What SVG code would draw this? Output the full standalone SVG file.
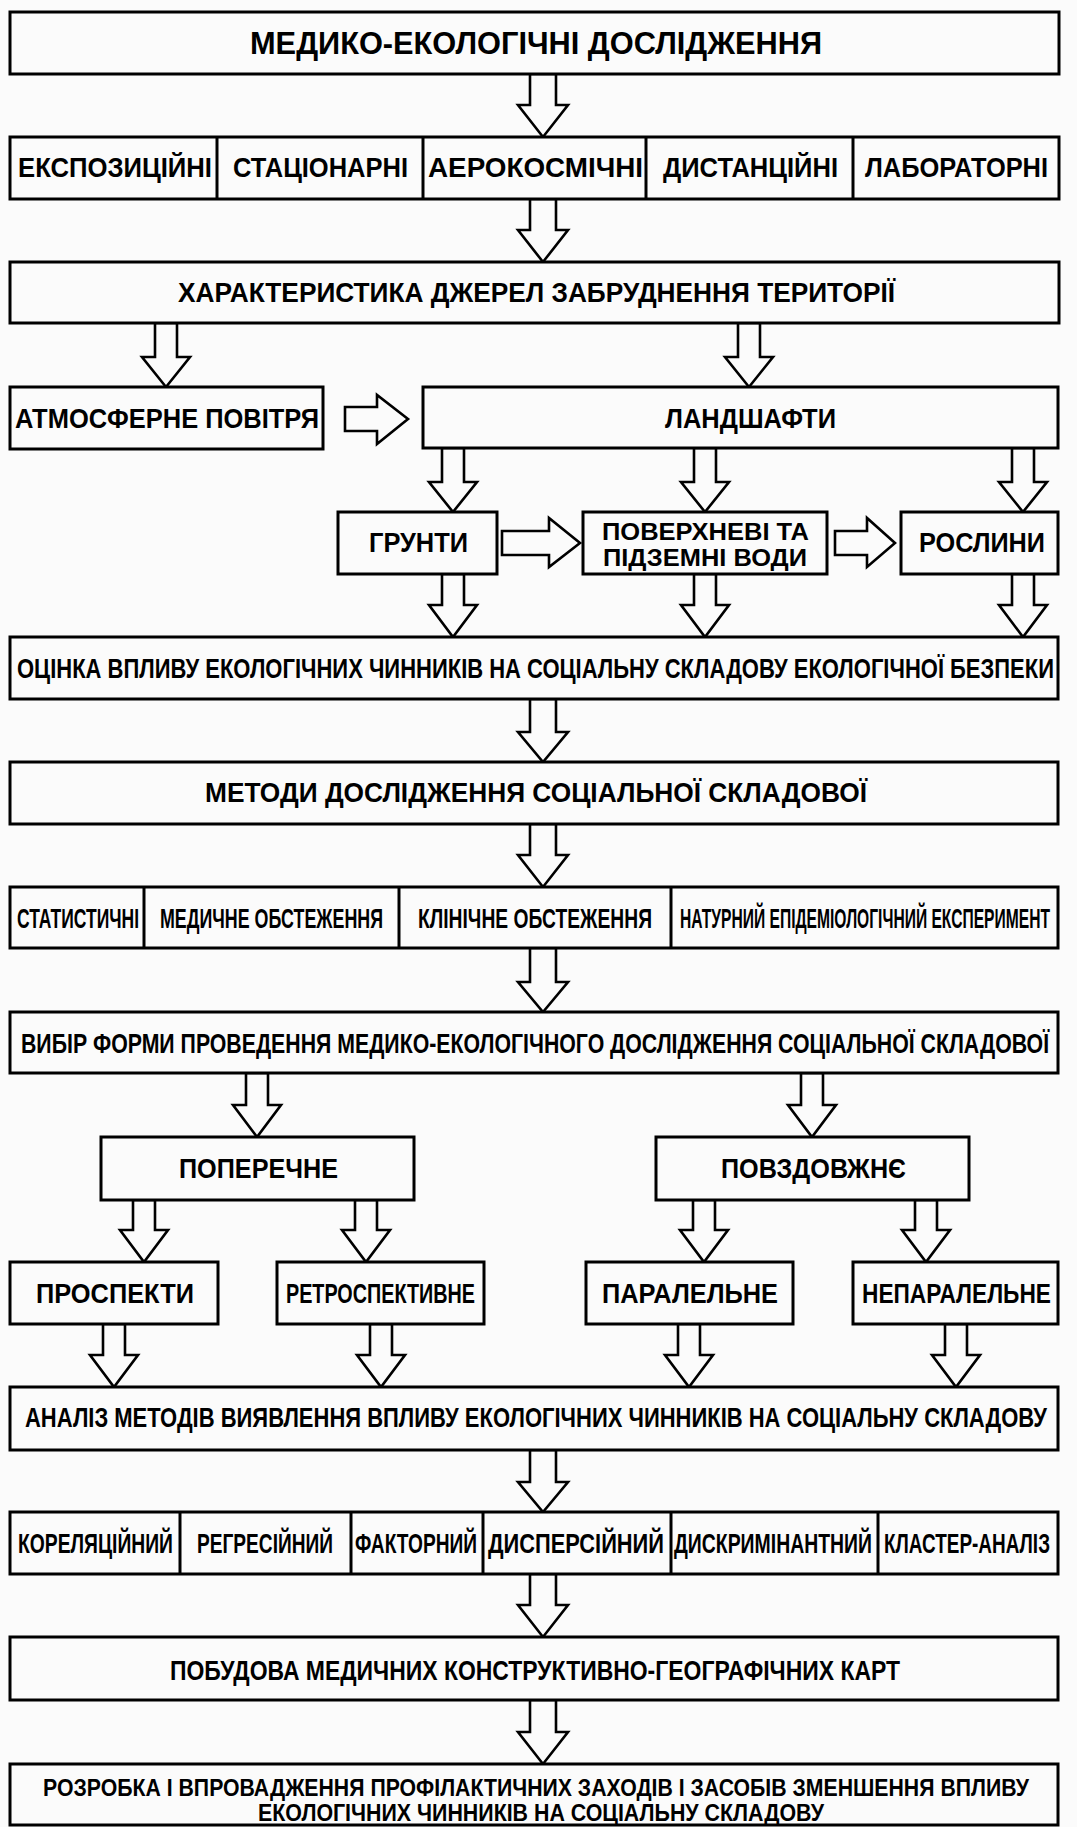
<svg xmlns="http://www.w3.org/2000/svg" width="1077" height="1827" viewBox="0 0 1077 1827">
<style>
.bx{fill:#fbfbfb;stroke:#000;stroke-width:3}
.dv{stroke:#000;stroke-width:3}
.ar{fill:#fbfbfb;stroke:#000;stroke-width:2.6;stroke-linejoin:miter}
text{font-family:"Liberation Sans",Arial,sans-serif;font-weight:bold;fill:#000}
.t31{font-size:31px}
.t26{font-size:27px}
.t24{font-size:24px}
.n27{font-size:28px}
</style>
<rect width="1077" height="1827" fill="#fbfbfb"/>

<g id="connectors">
<path class="ar" d="M530,74 V105 H518 L543,137 L568,105 H556 V74 Z"/>
<path class="ar" d="M530,199 V230 H518 L543,262 L568,230 H556 V199 Z"/>
<path class="ar" d="M530,699 V732 H518 L543,762 L568,732 H556 V699 Z"/>
<path class="ar" d="M530,824 V855 H518 L543,887 L568,855 H556 V824 Z"/>
<path class="ar" d="M530,948 V982 H518 L543,1012 L568,982 H556 V948 Z"/>
<path class="ar" d="M530,1450 V1482 H518 L543,1512 L568,1482 H556 V1450 Z"/>
<path class="ar" d="M530,1574 V1605 H518 L543,1637 L568,1605 H556 V1574 Z"/>
<path class="ar" d="M530,1700 V1732 H518 L543,1764 L568,1732 H556 V1700 Z"/>
<path class="ar" d="M155,323 V357 H142 L166,387 L190,357 H177 V323 Z"/>
<path class="ar" d="M738,323 V357 H725 L749,387 L773,357 H760 V323 Z"/>
<path class="ar" d="M345,407 H377 V395 L408,419 L377,444 V431 H345 Z"/>
<path class="ar" d="M502,531 H549 V518 L580,543 L549,567 V555 H502 Z"/>
<path class="ar" d="M835,531 H867 V518 L895,543 L867,567 V555 H835 Z"/>
<path class="ar" d="M442,448 V482 H429 L453,512 L477,482 H464 V448 Z"/>
<path class="ar" d="M694,448 V482 H681 L705,512 L729,482 H716 V448 Z"/>
<path class="ar" d="M1012,448 V482 H999 L1023,512 L1047,482 H1034 V448 Z"/>
<path class="ar" d="M442,574 V605 H429 L453,637 L477,605 H464 V574 Z"/>
<path class="ar" d="M694,574 V605 H681 L705,637 L729,605 H716 V574 Z"/>
<path class="ar" d="M1012,574 V605 H999 L1023,637 L1047,605 H1034 V574 Z"/>
<path class="ar" d="M246,1073 V1105 H233 L257,1137 L281,1105 H268 V1073 Z"/>
<path class="ar" d="M801,1073 V1105 H788 L812,1137 L836,1105 H823 V1073 Z"/>
<path class="ar" d="M133,1200 V1230 H120 L144,1262 L168,1230 H155 V1200 Z"/>
<path class="ar" d="M355,1200 V1230 H342 L366,1262 L390,1230 H377 V1200 Z"/>
<path class="ar" d="M693,1200 V1230 H680 L704,1262 L728,1230 H715 V1200 Z"/>
<path class="ar" d="M915,1200 V1230 H902 L926,1262 L950,1230 H937 V1200 Z"/>
<path class="ar" d="M103,1324 V1355 H90 L114,1387 L138,1355 H125 V1324 Z"/>
<path class="ar" d="M370,1324 V1355 H357 L381,1387 L405,1355 H392 V1324 Z"/>
<path class="ar" d="M678,1324 V1355 H665 L689,1387 L713,1355 H700 V1324 Z"/>
<path class="ar" d="M945,1324 V1355 H932 L956,1387 L980,1355 H967 V1324 Z"/>
</g>

<g id="n-title">
<rect class="bx" x="10" y="12" width="1049" height="62"/>
<text class="t31" x="250" y="54" textLength="572" lengthAdjust="spacingAndGlyphs">МЕДИКО-ЕКОЛОГІЧНІ ДОСЛІДЖЕННЯ</text>
</g>

<g id="n-types">
<rect class="bx" x="10" y="137" width="1049" height="62"/>
<line class="dv" x1="217" y1="137" x2="217" y2="199"/>
<line class="dv" x1="423" y1="137" x2="423" y2="199"/>
<line class="dv" x1="646" y1="137" x2="646" y2="199"/>
<line class="dv" x1="853" y1="137" x2="853" y2="199"/>
<text class="t26" x="18" y="177" textLength="194" lengthAdjust="spacingAndGlyphs">ЕКСПОЗИЦІЙНІ</text>
<text class="t26" x="233" y="177" textLength="175" lengthAdjust="spacingAndGlyphs">СТАЦІОНАРНІ</text>
<text class="t26" x="428" y="177" textLength="215" lengthAdjust="spacingAndGlyphs">АЕРОКОСМІЧНІ</text>
<text class="t26" x="663" y="177" textLength="175" lengthAdjust="spacingAndGlyphs">ДИСТАНЦІЙНІ</text>
<text class="t26" x="865" y="177" textLength="183" lengthAdjust="spacingAndGlyphs">ЛАБОРАТОРНІ</text>
</g>

<g id="n-sources">
<rect class="bx" x="10" y="262" width="1049" height="61"/>
<text class="t26" x="178" y="302" textLength="717" lengthAdjust="spacingAndGlyphs">ХАРАКТЕРИСТИКА ДЖЕРЕЛ ЗАБРУДНЕННЯ ТЕРИТОРІЇ</text>
</g>

<g id="n-air">
<rect class="bx" x="10" y="387" width="313" height="62"/>
<text class="t26" x="15" y="428" textLength="304" lengthAdjust="spacingAndGlyphs">АТМОСФЕРНЕ ПОВІТРЯ</text>
</g>

<g id="n-landscapes">
<rect class="bx" x="423" y="387" width="635" height="61"/>
<text class="t26" x="665" y="428" textLength="171" lengthAdjust="spacingAndGlyphs">ЛАНДШАФТИ</text>
</g>

<g id="n-soils">
<rect class="bx" x="338" y="512" width="159" height="62"/>
<text class="t26" x="369" y="552" textLength="99" lengthAdjust="spacingAndGlyphs">ГРУНТИ</text>
</g>

<g id="n-waters">
<rect class="bx" x="583" y="512" width="244" height="62"/>
<text class="t24" x="602" y="540" textLength="207" lengthAdjust="spacingAndGlyphs">ПОВЕРХНЕВІ ТА</text>
<text class="t24" x="603" y="566" textLength="204" lengthAdjust="spacingAndGlyphs">ПІДЗЕМНІ ВОДИ</text>
</g>

<g id="n-plants">
<rect class="bx" x="901" y="512" width="157" height="62"/>
<text class="t26" x="919" y="552" textLength="126" lengthAdjust="spacingAndGlyphs">РОСЛИНИ</text>
</g>

<g id="n-assessment">
<rect class="bx" x="10" y="637" width="1048" height="62"/>
<text class="n27" x="17" y="678" textLength="1037" lengthAdjust="spacingAndGlyphs">ОЦІНКА ВПЛИВУ ЕКОЛОГІЧНИХ ЧИННИКІВ НА СОЦІАЛЬНУ СКЛАДОВУ ЕКОЛОГІЧНОЇ БЕЗПЕКИ</text>
</g>

<g id="n-methods">
<rect class="bx" x="10" y="762" width="1048" height="62"/>
<text class="t26" x="205" y="802" textLength="662" lengthAdjust="spacingAndGlyphs">МЕТОДИ ДОСЛІДЖЕННЯ СОЦІАЛЬНОЇ СКЛАДОВОЇ</text>
</g>

<g id="n-method-types">
<rect class="bx" x="10" y="887" width="1048" height="61"/>
<line class="dv" x1="144" y1="887" x2="144" y2="948"/>
<line class="dv" x1="399" y1="887" x2="399" y2="948"/>
<line class="dv" x1="671" y1="887" x2="671" y2="948"/>
<text class="n27" x="17" y="928" textLength="122" lengthAdjust="spacingAndGlyphs">СТАТИСТИЧНІ</text>
<text class="n27" x="160" y="928" textLength="223" lengthAdjust="spacingAndGlyphs">МЕДИЧНЕ ОБСТЕЖЕННЯ</text>
<text class="n27" x="418" y="928" textLength="234" lengthAdjust="spacingAndGlyphs">КЛІНІЧНЕ ОБСТЕЖЕННЯ</text>
<text class="n27" x="680" y="928" textLength="370" lengthAdjust="spacingAndGlyphs">НАТУРНИЙ ЕПІДЕМІОЛОГІЧНИЙ ЕКСПЕРИМЕНТ</text>
</g>

<g id="n-choice">
<rect class="bx" x="10" y="1012" width="1048" height="61"/>
<text class="n27" x="21" y="1053" textLength="1028" lengthAdjust="spacingAndGlyphs">ВИБІР ФОРМИ ПРОВЕДЕННЯ МЕДИКО-ЕКОЛОГІЧНОГО ДОСЛІДЖЕННЯ СОЦІАЛЬНОЇ СКЛАДОВОЇ</text>
</g>

<g id="n-cross">
<rect class="bx" x="101" y="1137" width="313" height="63"/>
<text class="t26" x="179" y="1178" textLength="159" lengthAdjust="spacingAndGlyphs">ПОПЕРЕЧНЕ</text>
</g>

<g id="n-longitudinal">
<rect class="bx" x="656" y="1137" width="313" height="63"/>
<text class="t26" x="721" y="1178" textLength="185" lengthAdjust="spacingAndGlyphs">ПОВЗДОВЖНЄ</text>
</g>

<g id="n-prospective">
<rect class="bx" x="10" y="1262" width="208" height="62"/>
<text class="t26" x="36" y="1303" textLength="158" lengthAdjust="spacingAndGlyphs">ПРОСПЕКТИ</text>
</g>

<g id="n-retrospective">
<rect class="bx" x="277" y="1262" width="207" height="62"/>
<text class="n27" x="286" y="1303" textLength="189" lengthAdjust="spacingAndGlyphs">РЕТРОСПЕКТИВНЕ</text>
</g>

<g id="n-parallel">
<rect class="bx" x="586" y="1262" width="207" height="62"/>
<text class="t26" x="602" y="1303" textLength="176" lengthAdjust="spacingAndGlyphs">ПАРАЛЕЛЬНЕ</text>
</g>

<g id="n-nonparallel">
<rect class="bx" x="853" y="1262" width="205" height="62"/>
<text class="t26" x="862" y="1303" textLength="189" lengthAdjust="spacingAndGlyphs">НЕПАРАЛЕЛЬНЕ</text>
</g>

<g id="n-analysis">
<rect class="bx" x="10" y="1387" width="1048" height="63"/>
<text class="n27" x="25" y="1427" textLength="1022" lengthAdjust="spacingAndGlyphs">АНАЛІЗ МЕТОДІВ ВИЯВЛЕННЯ ВПЛИВУ ЕКОЛОГІЧНИХ ЧИННИКІВ НА СОЦІАЛЬНУ СКЛАДОВУ</text>
</g>

<g id="n-analysis-types">
<rect class="bx" x="10" y="1512" width="1048" height="62"/>
<line class="dv" x1="180" y1="1512" x2="180" y2="1574"/>
<line class="dv" x1="351" y1="1512" x2="351" y2="1574"/>
<line class="dv" x1="483" y1="1512" x2="483" y2="1574"/>
<line class="dv" x1="671" y1="1512" x2="671" y2="1574"/>
<line class="dv" x1="878" y1="1512" x2="878" y2="1574"/>
<text class="n27" x="18" y="1553" textLength="155" lengthAdjust="spacingAndGlyphs">КОРЕЛЯЦІЙНИЙ</text>
<text class="n27" x="197" y="1553" textLength="136" lengthAdjust="spacingAndGlyphs">РЕГРЕСІЙНИЙ</text>
<text class="n27" x="355" y="1553" textLength="122" lengthAdjust="spacingAndGlyphs">ФАКТОРНИЙ</text>
<text class="n27" x="488" y="1553" textLength="176" lengthAdjust="spacingAndGlyphs">ДИСПЕРСІЙНИЙ</text>
<text class="n27" x="674" y="1553" textLength="198" lengthAdjust="spacingAndGlyphs">ДИСКРИМІНАНТНИЙ</text>
<text class="n27" x="884" y="1553" textLength="166" lengthAdjust="spacingAndGlyphs">КЛАСТЕР-АНАЛІЗ</text>
</g>

<g id="n-maps">
<rect class="bx" x="10" y="1637" width="1048" height="63"/>
<text class="t26" x="170" y="1680" textLength="730" lengthAdjust="spacingAndGlyphs">ПОБУДОВА МЕДИЧНИХ КОНСТРУКТИВНО-ГЕОГРАФІЧНИХ КАРТ</text>
</g>

<g id="n-measures">
<rect class="bx" x="10" y="1764" width="1048" height="61"/>
<text class="t24" x="43" y="1796" textLength="986" lengthAdjust="spacingAndGlyphs">РОЗРОБКА І ВПРОВАДЖЕННЯ ПРОФІЛАКТИЧНИХ ЗАХОДІВ І ЗАСОБІВ ЗМЕНШЕННЯ ВПЛИВУ</text>
<text class="t24" x="258" y="1821" textLength="566" lengthAdjust="spacingAndGlyphs">ЕКОЛОГІЧНИХ ЧИННИКІВ НА СОЦІАЛЬНУ СКЛАДОВУ</text>
</g>
</svg>
